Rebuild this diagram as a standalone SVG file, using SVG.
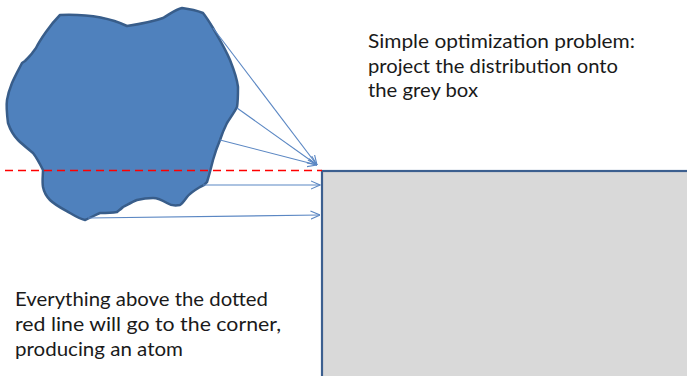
<svg xmlns="http://www.w3.org/2000/svg" width="687" height="376" viewBox="0 0 687 376">
  <style>
    .label { font-family: "Lato", "Open Sans", "Liberation Sans", sans-serif; font-size: 20px; fill: #1a1a1a; }
    .arrow { stroke: #5b87c3; stroke-width: 1.1; fill: none; marker-end: url(#open); }
  </style>
  <defs>
    <marker id="open" viewBox="0 0 10 10" refX="9.5" refY="5" markerWidth="10" markerHeight="10" markerUnits="userSpaceOnUse" orient="auto">
      <path d="M0,0.8 L9.5,5 L0,9.2" fill="none" stroke="#5b87c3" stroke-width="1.1"/>
    </marker>
  </defs>

  <rect width="687" height="376" fill="#ffffff"/>

  <!-- grey target box -->
  <g id="box">
    <rect x="322" y="171" width="380" height="220" fill="#d9d9d9" stroke="#3c5f8f" stroke-width="2.2"/>
  </g>

  <!-- irregular distribution blob -->
  <g id="blob">
    <path d="M60,15 C85,14 110,18 127,26 C140,24 152,22 163,18 C170,14 176,9 182,8 C190,9 198,11 203,13 C207,18 210,23 213,28 C220,40 226,50 230,60 C234,70 237,78 238,87 C238,95 238,101 237,107 C234,113 230,118 227,123 C224,129 222,134 220,140 C217,147 215,153 213,160 C211,168 209,176 207,182 C205,185 203,186 200,187 C195,190 190,193 187,197 C184,201 182,204 180,205 C175,206 170,205 167,203 C162,200 158,198 153,198 C147,198 141,199 137,200 C132,202 127,205 123,207 C120,210 118,211 117,212 C111,213 105,213 100,213 C95,215 90,218 85,220 C80,219 75,216 70,213 C63,209 55,205 50,200 C46,196 44,192 43,187 C42,181 43,175 43,170 C40,164 37,158 33,153 C27,148 22,144 18,140 C13,135 10,129 8,123 C7,115 6,107 7,100 C8,94 10,88 12,83 C15,76 19,69 22,63 L25,61 C28,58 31,55 33,52 L36,48 C40,40 50,25 60,15 Z" fill="#4f81bd" stroke="#385d8a" stroke-width="2.5" stroke-linejoin="round"/>
  </g>

  <!-- projection arrows and threshold line -->
  <g id="connectors">
    <line x1="5" y1="170.5" x2="322" y2="170.5" stroke="#ff0000" stroke-width="1.6" stroke-dasharray="8,5"/>
    <line class="arrow" x1="213" y1="28" x2="317" y2="165"/>
    <line class="arrow" x1="237" y1="108" x2="317" y2="165"/>
    <line class="arrow" x1="220" y1="140" x2="317" y2="165"/>
    <line class="arrow" x1="203" y1="185" x2="320" y2="185"/>
    <line class="arrow" x1="88" y1="218" x2="320" y2="215"/>
  </g>

  <!-- explanatory text -->
  <g id="note-top">
    <text class="label" x="368" y="48" textLength="267" lengthAdjust="spacingAndGlyphs">Simple optimization problem:</text>
    <text class="label" x="368" y="72.5" textLength="250" lengthAdjust="spacingAndGlyphs">project the distribution onto</text>
    <text class="label" x="368" y="97" textLength="110" lengthAdjust="spacingAndGlyphs">the grey box</text>
  </g>
  <g id="note-bottom">
    <text class="label" x="15" y="306" textLength="253" lengthAdjust="spacingAndGlyphs">Everything above the dotted</text>
    <text class="label" x="15" y="331" textLength="266" lengthAdjust="spacingAndGlyphs">red line will go to the corner,</text>
    <text class="label" x="15" y="356" textLength="168" lengthAdjust="spacingAndGlyphs">producing an atom</text>
  </g>
</svg>
